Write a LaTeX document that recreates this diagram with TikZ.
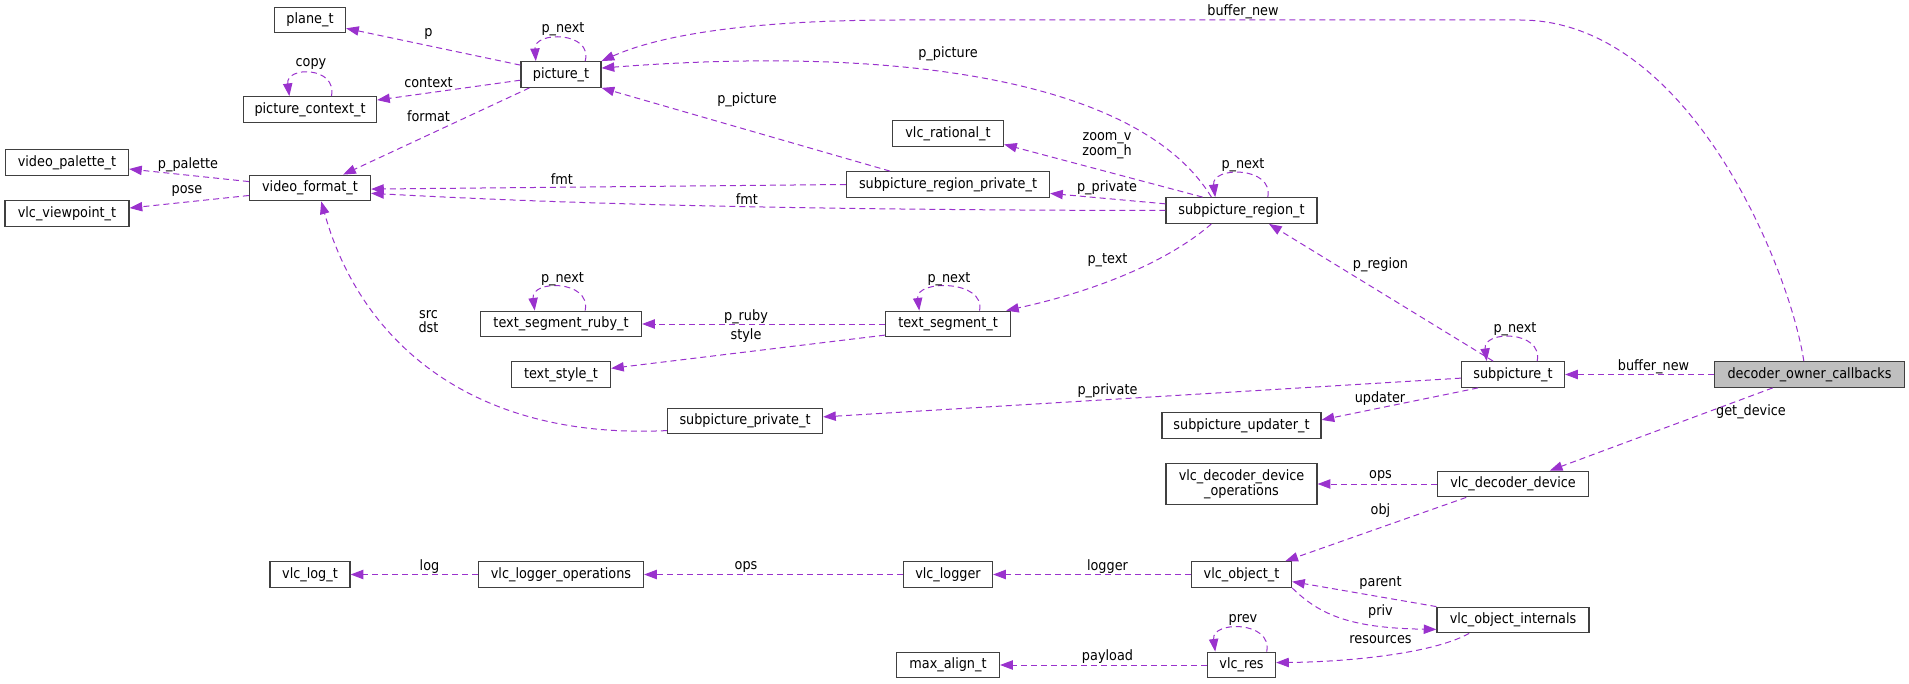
\documentclass[tikz,border=0pt]{standalone}
\usepackage{fontspec}
\usetikzlibrary{arrows.meta}
\newfontfamily\dgfont{DejaVu Sans Condensed}
\newcommand\dgsize{\dgfont\fontsize{10.7pt}{11pt}\selectfont}
\definecolor{edgecol}{RGB}{154,50,205}
\definecolor{ownergray}{RGB}{191,191,191}
\tikzset{
  cls/.style={draw=black!75, line width=0.9pt, fill=white, rectangle, inner sep=0pt,
    minimum width={#1*0.75pt}, minimum height=19.2pt, align=center, font=\dgsize},
  ref/.style={draw=edgecol, line width=0.75pt, dash pattern=on 4.5pt off 3pt,
    -{Triangle[length=9.5pt,width=7pt,fill=edgecol]}},
  lbl/.style={inner sep=0pt, align=center, font=\dgsize}
}
\begin{document}
\begin{tikzpicture}[x=0.75pt,y=0.75pt,yscale=-1]
\useasboundingbox (0,0) rectangle (1909,684);

% Class boxes
\node[cls=71] (plane) at (310,20) {plane\_t};
\node[cls=80] (picture) at (561,74.5) {picture\_t};
\node[cls=133] (ctx) at (310,109.5) {picture\_context\_t};
\node[cls=123] (palette) at (67,162.5) {video\_palette\_t};
\node[cls=121] (vfmt) at (310,188) {video\_format\_t};
\node[cls=124] (viewpoint) at (67,213.5) {vlc\_viewpoint\_t};
\node[cls=111] (rational) at (948,133.5) {vlc\_rational\_t};
\node[cls=203] (regpriv) at (948,184.5) {subpicture\_region\_private\_t};
\node[cls=151] (region) at (1241.5,210.5) {subpicture\_region\_t};
\node[cls=161] (ruby) at (561,324) {text\_segment\_ruby\_t};
\node[cls=125] (segment) at (948,324) {text\_segment\_t};
\node[cls=99] (style) at (561,374.5) {text\_style\_t};
\node[cls=103] (subpic) at (1513,374.5) {subpicture\_t};
\node[cls=190, fill=ownergray] (owner) at (1809.5,374.5) {decoder\_owner\_callbacks};
\node[cls=155] (subpriv) at (745,421) {subpicture\_private\_t};
\node[cls=159] (updater) at (1241.5,425.5) {subpicture\_updater\_t};
\node[cls=151, minimum height=30.5pt] (devops) at (1241.5,484) {vlc\_decoder\_device\\\_operations};
\node[cls=151] (device) at (1513,484) {vlc\_decoder\_device};
\node[cls=80] (logt) at (310,574.5) {vlc\_log\_t};
\node[cls=165] (logops) at (561,574.5) {vlc\_logger\_operations};
\node[cls=89] (logger) at (948,574.5) {vlc\_logger};
\node[cls=100] (object) at (1241.5,574.5) {vlc\_object\_t};
\node[cls=152] (internals) at (1513,620) {vlc\_object\_internals};
\node[cls=103] (maxalign) at (948,665) {max\_align\_t};
\node[cls=68] (res) at (1241.5,665) {vlc\_res};

% picture_t and its members
\draw[ref] (picture.167) -- (plane.347);
\draw[ref] (picture.29) .. controls +(8,-30) and +(-2,-30) .. (picture.152);
\draw[ref] (picture.188) -- (ctx.8);
\draw[ref] (ctx.32) .. controls +(6,-30) and +(-4,-30) .. (ctx.147);
\draw[ref] (picture.203) -- (vfmt.22);
\draw[ref] (vfmt.174) -- (palette.354);
\draw[ref] (vfmt.187) -- (viewpoint.5);
\draw[ref] (owner.113) .. controls (1790,270) and (1690,20) .. (1520,20) -- (900,20) .. controls (750,20) and (660,35) .. (picture.north east);

% subpicture_region_t
\draw[ref] (region.156) .. controls (1140,80) and (900,45) .. (picture.9);
\draw[ref] (regpriv.167) -- (picture.south east);
\draw[ref] (region.161) -- (rational.349);
\draw[ref] (region.175) -- (regpriv.355);
\draw[ref] (regpriv.west) -- (vfmt.359);
\draw[ref] (region.west) .. controls (700,210) and (500,200) .. (vfmt.355);
\draw[ref] (region.27) .. controls +(6,-31) and +(-4,-31) .. (region.153);
\draw[ref] (subpriv.187) .. controls (470,440) and (360,340) .. (vfmt.310);

% text segments
\draw[ref] (region.204) .. controls (1170,260) and (1100,290) .. (segment.13);
\draw[ref] (segment.23) .. controls +(6,-31) and +(-4,-31) .. (segment.155);
\draw[ref] (segment.west) -- (ruby.east);
\draw[ref] (segment.190) -- (style.7);
\draw[ref] (ruby.29) .. controls +(6,-31) and +(-4,-31) .. (ruby.153);

% subpicture_t
\draw[ref] (subpic.146) -- (region.334);
\draw[ref] (subpic.29) .. controls +(6,-31) and +(-4,-31) .. (subpic.153);
\draw[ref] (owner.west) -- (subpic.east);
\draw[ref] (subpic.184) -- (subpriv.3);
\draw[ref] (subpic.201) -- (updater.4);

% decoder device and objects
\draw[ref] (owner.200) -- (device.20);
\draw[ref] (device.west) -- (devops.east);
\draw[ref] (device.196) -- (object.17);
\draw[ref] (object.west) -- (logger.east);
\draw[ref] (logger.west) -- (logops.east);
\draw[ref] (logops.west) -- (logt.east);
\draw[ref] (internals.north west) -- (object.352);
\draw[ref] (object.south east) .. controls (1320,615) and (1350,628) .. (internals.187);
\draw[ref] (internals.197) .. controls (1430,655) and (1340,662) .. (res.4);
\draw[ref] (res.west) -- (maxalign.east);
\draw[ref] (res.28) .. controls +(6,-31) and +(-4,-31) .. (res.153);

% Edge labels
\node[lbl] (lp) at (428.5,33.5) {p};
\node[lbl] (lpnext1) at (563,29) {p\_next};
\node[lbl] (lcontext) at (428.5,82.5) {context};
\node[lbl] (lcopy) at (311,64) {copy};
\node[lbl] (lformat) at (428.5,116.5) {format};
\node[lbl] (lpalette) at (188,165) {p\_palette};
\node[lbl] (lpose) at (187,190.5) {pose};
\node[lbl] (lbuf1) at (1243,11.5) {buffer\_new};
\node[lbl] (lpic1) at (948,53.5) {p\_picture};
\node[lbl] (lpic2) at (747,100) {p\_picture};
\node[lbl] (lzoom) at (1107,145.5) {zoom\_v\\zoom\_h};
\node[lbl] (lpriv1) at (1107,187.5) {p\_private};
\node[lbl] (lfmt1) at (562,179) {fmt};
\node[lbl] (lfmt2) at (747,199) {fmt};
\node[lbl] (lpnext2) at (1243,165) {p\_next};
\node[lbl] (lsrc) at (428.5,321.5) {src\\dst};
\node[lbl] (ltext) at (1107.5,260) {p\_text};
\node[lbl] (lpnext3) at (949,279.5) {p\_next};
\node[lbl] (lpnext4) at (562.5,279.5) {p\_next};
\node[lbl] (lruby) at (746,316.5) {p\_ruby};
\node[lbl] (lstyle) at (746,336) {style};
\node[lbl] (lregion) at (1380.5,265) {p\_region};
\node[lbl] (lpnext5) at (1515,329) {p\_next};
\node[lbl] (lbuf2) at (1653.5,366.5) {buffer\_new};
\node[lbl] (lpriv2) at (1107.5,391) {p\_private};
\node[lbl] (lupdater) at (1380,398.5) {updater};
\node[lbl] (lgetdev) at (1751,411.5) {get\_device};
\node[lbl] (lops1) at (1380.5,475.5) {ops};
\node[lbl] (lobj) at (1380.5,511) {obj};
\node[lbl] (llogger) at (1107.5,566.5) {logger};
\node[lbl] (lops2) at (746,566.5) {ops};
\node[lbl] (llog) at (429.5,566.5) {log};
\node[lbl] (lparent) at (1380.5,582.5) {parent};
\node[lbl] (lpriv3) at (1380.5,611.5) {priv};
\node[lbl] (lres) at (1380.5,640) {resources};
\node[lbl] (lpayload) at (1107.5,656.5) {payload};
\node[lbl] (lprev) at (1243,620) {prev};

\end{tikzpicture}
\end{document}
